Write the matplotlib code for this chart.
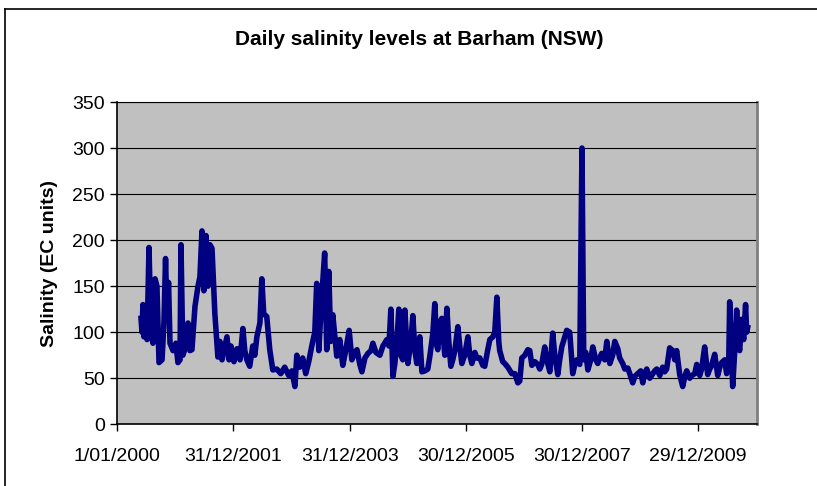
import matplotlib
matplotlib.use('Agg')
import numpy as np
import pandas as pd
import matplotlib.pyplot as plt
import matplotlib.dates as mdates
from matplotlib.lines import Line2D

# daily salinity readings at Barham (EC units)
dates = [
    '2000-05-29', '2000-06-04', '2000-06-10', '2000-06-16', '2000-06-26', '2000-07-06',
    '2000-07-18', '2000-07-31', '2000-08-12', '2000-08-25', '2000-09-06', '2000-09-19',
    '2000-10-08', '2000-10-20', '2000-10-30', '2000-11-08', '2000-11-18', '2000-11-27',
    '2000-12-16',
    '2001-01-03', '2001-01-16', '2001-01-29', '2001-02-04', '2001-02-16', '2001-03-07',
    '2001-03-20', '2001-04-01', '2001-04-14', '2001-05-03', '2001-05-22', '2001-06-03',
    '2001-06-16', '2001-06-28', '2001-07-11', '2001-07-24', '2001-08-05', '2001-08-18',
    '2001-09-05', '2001-09-24', '2001-10-07', '2001-10-20', '2001-11-08', '2001-11-20',
    '2001-12-03', '2001-12-15',
    '2002-01-03', '2002-01-22', '2002-02-10', '2002-02-28', '2002-03-12', '2002-03-25',
    '2002-04-12', '2002-05-01', '2002-05-14', '2002-05-27', '2002-06-15', '2002-06-27',
    '2002-07-09', '2002-07-28', '2002-08-16', '2002-09-04', '2002-09-29', '2002-10-24',
    '2002-11-18', '2002-12-13',
    '2003-01-02', '2003-01-21', '2003-02-02', '2003-02-20', '2003-03-11', '2003-03-30',
    '2003-04-18', '2003-05-07', '2003-05-26', '2003-06-07', '2003-06-20', '2003-07-09',
    '2003-07-27', '2003-08-09', '2003-08-22', '2003-09-03', '2003-09-16', '2003-10-11',
    '2003-10-30', '2003-11-18', '2003-12-06', '2003-12-28',
    '2004-01-14', '2004-02-02', '2004-02-15', '2004-03-04', '2004-03-17', '2004-04-05',
    '2004-04-24', '2004-05-13', '2004-05-25', '2004-06-13', '2004-07-08', '2004-07-27',
    '2004-08-21', '2004-09-03', '2004-09-15', '2004-09-28', '2004-10-10', '2004-10-23',
    '2004-11-04', '2004-11-17', '2004-11-29', '2004-12-12', '2004-12-31',
    '2005-01-19', '2005-01-31', '2005-02-13', '2005-02-25', '2005-03-16', '2005-03-29',
    '2005-04-17', '2005-05-05', '2005-05-18', '2005-06-06', '2005-06-18', '2005-07-01',
    '2005-07-07', '2005-07-20', '2005-08-01', '2005-08-20', '2005-09-02', '2005-09-14',
    '2005-09-27', '2005-10-09', '2005-10-22', '2005-11-10', '2005-11-22', '2005-12-05',
    '2005-12-23',
    '2006-01-12', '2006-01-24', '2006-02-06', '2006-02-25', '2006-03-09', '2006-03-28',
    '2006-04-16', '2006-04-28', '2006-05-17', '2006-05-30', '2006-06-18', '2006-06-30',
    '2006-07-13', '2006-07-25', '2006-07-31', '2006-08-19', '2006-09-01', '2006-09-20',
    '2006-10-15', '2006-11-03', '2006-11-22', '2006-12-04', '2006-12-17',
    '2007-01-05', '2007-01-24', '2007-02-05', '2007-02-18', '2007-03-09', '2007-03-27',
    '2007-04-09', '2007-04-21', '2007-05-10', '2007-05-23', '2007-06-11', '2007-06-29',
    '2007-07-12', '2007-07-31', '2007-08-12', '2007-08-25', '2007-09-13', '2007-09-25',
    '2007-10-14', '2007-11-02', '2007-11-15', '2007-11-27', '2007-12-16', '2007-12-30',
    '2008-01-10', '2008-01-23', '2008-02-05', '2008-02-23', '2008-03-07', '2008-03-26',
    '2008-04-07', '2008-04-20', '2008-05-02', '2008-05-21', '2008-06-03', '2008-06-22',
    '2008-07-10', '2008-07-23', '2008-08-11', '2008-08-23', '2008-09-11', '2008-09-24',
    '2008-10-13', '2008-10-25', '2008-11-13', '2008-11-26', '2008-12-15',
    '2009-01-02', '2009-01-15', '2009-01-27', '2009-02-09', '2009-02-28', '2009-03-12',
    '2009-03-31', '2009-04-13', '2009-05-02', '2009-05-20', '2009-06-02', '2009-06-14',
    '2009-07-03', '2009-07-22', '2009-08-04', '2009-08-16', '2009-09-04', '2009-09-23',
    '2009-10-06', '2009-10-18', '2009-11-06', '2009-11-19', '2009-12-08', '2009-12-20',
    '2010-01-08', '2010-01-20', '2010-02-08', '2010-02-27', '2010-03-12', '2010-03-24',
    '2010-04-12', '2010-05-01', '2010-05-14', '2010-05-26', '2010-06-14', '2010-06-26',
    '2010-07-09', '2010-07-15', '2010-07-24', '2010-08-03', '2010-08-15', '2010-08-28',
    '2010-09-09', '2010-09-16', '2010-09-28', '2010-10-11', '2010-10-23', '2010-10-30',
    '2010-11-05',
]
salinity = [
    115, 100, 130, 95, 128, 92,
    192, 100, 88, 158, 150, 67,
    70, 110, 180, 120, 154, 88,
    80,
    88, 67, 70, 195, 75, 85,
    110, 80, 81, 128, 150, 160,
    210, 145, 205, 150, 195, 191,
    120, 73, 90, 70, 85, 95,
    70, 85,
    68, 82, 70, 104, 80, 70,
    63, 85, 75, 95, 110, 158,
    120, 117, 81, 59, 60, 55,
    62, 53,
    58, 41, 75, 62, 72, 55,
    68, 85, 100, 153, 80, 139,
    186, 81, 166, 90, 119, 74,
    92, 64, 80, 102,
    70, 78, 81, 65, 57, 72,
    77, 80, 88, 78, 75, 85,
    92, 85, 125, 52, 66, 90,
    125, 75, 70, 124, 66,
    90, 118, 80, 66, 95, 57,
    58, 60, 74, 99, 131, 85,
    81, 110, 115, 75, 126, 90,
    63, 70, 80, 106, 85, 66,
    75,
    95, 75, 66, 78, 72, 72,
    64, 63, 81, 92, 95, 100,
    138, 90, 80, 68, 66, 62,
    55, 55, 45, 47, 72,
    75, 81, 80, 64, 68, 65,
    60, 65, 84, 70, 57, 99,
    75, 54, 70, 84, 95, 102,
    100, 55, 65, 70, 65, 300,
    70, 78, 59, 70, 84, 70,
    66, 72, 77, 70, 90, 66,
    75, 90, 82, 72, 66, 60,
    61, 55, 45, 52, 55,
    58, 45, 55, 60, 50, 53,
    58, 60, 53, 62, 57, 60,
    83, 80, 70, 80, 54, 41,
    52, 58, 50, 53, 55, 65,
    53, 60, 84, 54, 60, 64,
    76, 53, 62, 67, 70, 55,
    65, 133, 90, 41, 77, 124,
    85, 80, 114, 92, 130, 100,
    105,
]

tick_dates = ['2000-01-01', '2001-12-31', '2003-12-31', '2005-12-30', '2007-12-30', '2009-12-29']
tick_labels = ['1/01/2000', '31/12/2001', '31/12/2003', '30/12/2005', '30/12/2007', '29/12/2009']
y_ticks = [0, 50, 100, 150, 200, 250, 300, 350]

plt.rcParams['font.family'] = ['Liberation Sans', 'DejaVu Sans']

fig = plt.figure(figsize=(8.17, 4.86), dpi=100)
ax = fig.add_axes([0.1436, 0.127, 0.7826, 0.6631])
ax.set_facecolor('#c0c0c0')

x = pd.to_datetime(dates)
ax.plot(x, salinity, color='#000080', linewidth=4.0)

ax.set_xlim(pd.Timestamp('2000-01-01'), pd.Timestamp('2011-01-01'))
ax.set_ylim(0, 350)
ax.set_yticks(y_ticks)
ax.set_xticks(pd.to_datetime(tick_dates))
ax.set_xticklabels(tick_labels)
ax.yaxis.grid(True, color='black', linewidth=0.8)
ax.set_axisbelow(True)

ax.tick_params(axis='both', direction='out', length=5, width=1, labelsize=14, colors='black')
ax.tick_params(axis='x', pad=12)
ax.tick_params(axis='y', pad=4)

for side in ['left', 'bottom']:
    ax.spines[side].set_color('black')
    ax.spines[side].set_linewidth(1.2)
ax.spines['right'].set_color('#808080')
ax.spines['right'].set_linewidth(2)
ax.spines['top'].set_color('black')
ax.spines['top'].set_linewidth(0.8)

ax.set_ylabel('Salinity (EC units)', fontsize=14, fontweight='bold', labelpad=10)
fig.text(0.513, 0.918, 'Daily salinity levels at Barham (NSW)', ha='center', va='center',
         fontsize=15, fontweight='bold')

# outer chart frame
fig.add_artist(Line2D([5 / 817, 5 / 817], [0, 1 - 9 / 486], color='black', linewidth=1.2))
fig.add_artist(Line2D([5 / 817, 1], [1 - 9 / 486, 1 - 9 / 486], color='black', linewidth=1.2))

fig.savefig('out.png', dpi=100)
